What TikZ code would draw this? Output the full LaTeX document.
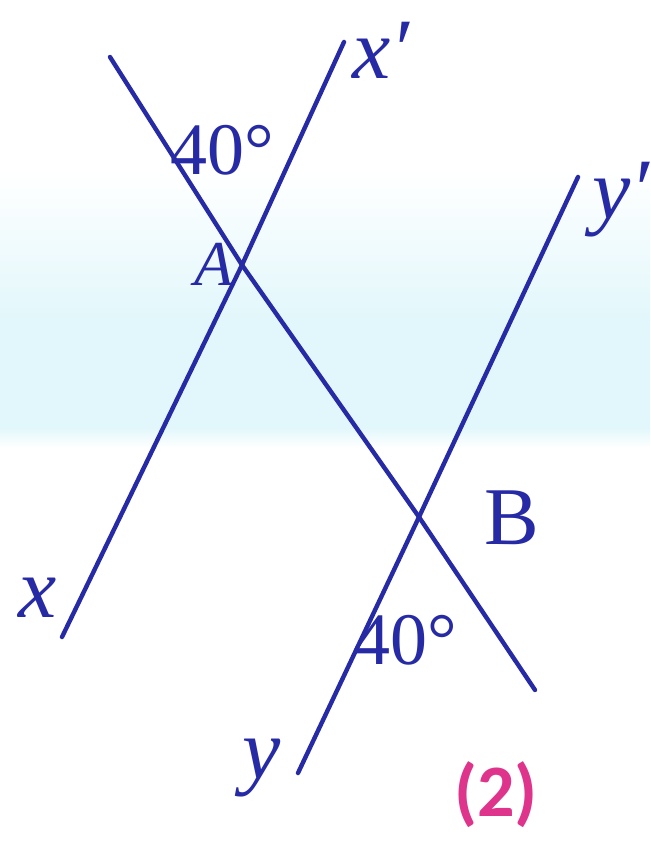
\documentclass[tikz,border=0pt]{standalone}
\usepackage{fontspec}
\setmainfont{Liberation Serif}
\newfontfamily\numfont{Carlito}
\definecolor{lineblue}{RGB}{38,42,165}
\definecolor{bandblue}{RGB}{226,247,251}
\definecolor{labpink}{RGB}{222,52,140}
\tikzset{
  geoline/.style={draw=lineblue, line width=4.4pt, line cap=round},
  lab/.style={text=lineblue, inner sep=0pt, font=\fontsize{86}{86}\selectfont\itshape},
  deg/.style={text=lineblue, inner sep=0pt, font=\fontsize{74}{74}\selectfont},
  ptlab/.style={text=lineblue, inner sep=0pt, font=\fontsize{82}{82}\selectfont},
  figno/.style={text=labpink, inner sep=0pt, font=\fontsize{74}{74}\selectfont\numfont\bfseries}
}
\begin{document}
\begin{tikzpicture}[x=1pt,y=-1pt]
\useasboundingbox (0,0) rectangle (650,842);
\fill[white] (0,0) rectangle (650,842);
% light blue band
\shade[top color=white,bottom color=bandblue] (0,170) rectangle (650,320);
\fill[bandblue] (0,319.5) rectangle (650,428);
\shade[top color=bandblue,bottom color=white] (0,427.5) rectangle (650,448);

% line end points
\coordinate (xe) at (62,637);
\coordinate (xpe) at (344,42);
\coordinate (ye) at (298,773);
\coordinate (ype) at (578,177);
\coordinate (ts) at (110,57);
\coordinate (te) at (535,690);
\coordinate (A) at (242,265);
\coordinate (B) at (419,517);

\draw[geoline] (xe) -- (A) -- (xpe);
\draw[geoline] (ye) -- (B) -- (ype);
\draw[geoline] (ts) -- (A) -- (B) -- (te);

% labels
\node[lab] (lx) at (38,598) {x};
\node[lab, anchor=west] (lxp) at (352,50) {x′};
\node[lab] (ly) at (262,768) {y};
\node[lab, anchor=west] (lyp) at (592,200) {y′};
\node[deg] (d1) at (222,150) {40°};
\node[deg] (d2) at (405,640) {40°};
\node[ptlab, font=\fontsize{64}{64}\selectfont\itshape] (lA) at (214,264) {A};
\node[ptlab] (lB) at (512,518) {B};
\node[figno] (fig) at (496,795) {(2)};
\end{tikzpicture}
\end{document}
